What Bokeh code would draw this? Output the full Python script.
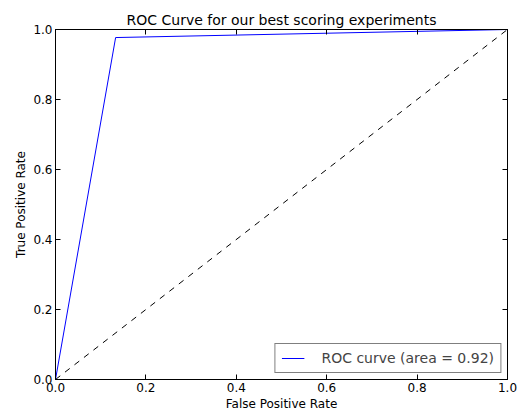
from bokeh.plotting import figure
from bokeh.models import LinearAxis, Range1d, Legend, LegendItem, FixedTicker
from bokeh.embed import file_html
from bokeh.resources import INLINE

fpr = [0.0, 0.133, 1.0]
tpr = [0.0, 0.977, 1.0]
diag_x = [0.0, 1.0]
diag_y = [0.0, 1.0]
ticks = [0.0, 0.2, 0.4, 0.6, 0.8, 1.0]
tick_labels = ["0.0", "0.2", "0.4", "0.6", "0.8", "1.0"]
auc_label = "ROC curve (area = 0.92)"
FONT = "DejaVu Sans"

p = figure(width=518, height=413, output_backend="svg", toolbar_location=None,
           x_range=Range1d(0, 1), y_range=Range1d(0, 1),
           min_border_left=55, min_border_right=11, min_border_top=29, min_border_bottom=32)
p.title.text = "ROC Curve for our best scoring experiments"
p.title.align = "center"
p.title.text_font = FONT
p.title.text_font_size = "14px"
p.title.text_font_style = "normal"
p.title.text_color = "black"
p.title.offset = 0
p.title.standoff = 3

p.grid.visible = False
p.outline_line_color = "black"
p.outline_line_width = 1
p.background_fill_color = "white"
p.border_fill_color = "white"

overrides = {t: s for t, s in zip(ticks, tick_labels)}
for ax in p.axis:
    ax.ticker = FixedTicker(ticks=ticks)
    ax.major_tick_in = 5
    ax.major_tick_out = 0
    ax.minor_tick_line_color = None
    ax.major_label_text_font = FONT
    ax.major_label_text_font_size = "12px"
    ax.major_label_text_color = "black"
    ax.axis_line_color = "black"
    ax.major_label_standoff = 3
    ax.major_label_overrides = overrides
    ax.axis_label_text_font = FONT
    ax.axis_label_text_font_size = "12px"
    ax.axis_label_text_font_style = "normal"
    ax.axis_label_text_color = "black"
    ax.axis_label_standoff = 2

p.xaxis.axis_label = "False Positive Rate"
p.yaxis.axis_label = "True Positive Rate"

for loc in ("above", "right"):
    a = LinearAxis(ticker=FixedTicker(ticks=ticks), major_tick_in=5, major_tick_out=0,
                   minor_tick_line_color=None, major_label_text_font_size="0px",
                   axis_line_color="black")
    a.major_label_text_color = None
    p.add_layout(a, loc)

p.line(diag_x, diag_y, line_color="black", line_dash="6 6", line_width=1)
r = p.line(fpr, tpr, line_color="blue", line_width=1)

legend = Legend(items=[LegendItem(label=auc_label, renderers=[r])], location="bottom_right",
                label_text_font=FONT, label_text_font_size="14px",
                border_line_color="black", border_line_width=1, margin=6,
                padding=6, glyph_width=23, glyph_height=14, label_standoff=17,
                label_height=14, background_fill_alpha=1)
p.add_layout(legend)

open("out.html", "w").write(file_html(p, INLINE))
